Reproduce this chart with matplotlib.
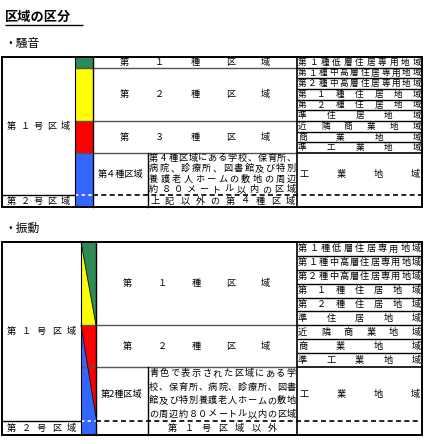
import matplotlib
matplotlib.use("Agg")
import matplotlib.pyplot as plt
from matplotlib.patches import Polygon, Rectangle

plt.rcParams['font.family'] = ['Noto Sans CJK JP', 'DejaVu Sans']

title = "区域の区分"
sec1 = "・騒音"
sec2 = "・振動"
zones = ["第１種低層住居専用地域", "第１種中高層住居専用地域", "第２種中高層住居専用地域",
         "第１種住居地域", "第２種住居地域", "準住居地域",
         "近隣商業地域", "商業地域", "準工業地域"]
kogyo = "工業地域"
noise_classes = ["第１種区域", "第２種区域", "第３種区域"]
noise_class_zone_counts = [1, 5, 3]
noise_4 = "第４種区域"
noise_4_text = ["第4種区域にある学校、保育所、", "病院、診療所、図書館及び特別",
                "養護老人ホームの敷地の周辺", "約８０メートル以内の区域"]
noise_other = "上記以外の第４種区域"
vib_classes = ["第１種区域", "第２種区域"]
vib_class_zone_counts = [6, 3]
vib_2 = "第2種区域"
vib_2_text = ["青色で表示された区域にある学", "校、保育所、病院、診療所、図書",
              "館及び特別養護老人ホームの敷地", "の周辺約８０メートル以内の区域"]
vib_other = "第１号区域以外"
area1 = "第１号区域"
area2 = "第２号区域"

GREEN, YELLOW, RED, BLUE = "#2e8b57", "#ffff00", "#ff0000", "#3366ff"

fig = plt.figure(figsize=(4.25, 4.44), dpi=100)
ax = fig.add_axes([0, 0, 1, 1])
ax.set_xlim(0, 425); ax.set_ylim(444, 0); ax.axis('off')
FS = 6.6

def just(text, x0, x1, y, fs=FS, pad=2):
    chars = [c for c in text if c not in " 　"]
    n = len(chars)
    if n == 1:
        ax.text((x0+x1)/2, y, chars[0], ha='center', va='center', fontsize=fs); return
    w = fs*1.39
    a, b = x0+pad+w/2, x1-pad-w/2
    for i, c in enumerate(chars):
        ax.text(a+(b-a)*i/(n-1), y, c, ha='center', va='center', fontsize=fs)

def hline(y, x0, x1, lw=0.8, ls='-', c='black'):
    ax.plot([x0, x1], [y, y], color=c, lw=lw, ls=ls, solid_capstyle='butt')

def vline(x, y0, y1, lw=0.8, c='black'):
    ax.plot([x, x], [y0, y1], color=c, lw=lw)

ax.text(5, 17, title, fontsize=9.5, fontweight='bold', va='center')
hline(25, 5, 83, lw=1)
ax.text(4, 43, sec1, fontsize=8.5, va='center')
ax.text(4, 228, sec2, fontsize=8.5, va='center')

def table(top, bottom, dash_y, c1, c2, csub, c3, right_top, right_bot, classes, counts, subname, subtext, other, kind):
    L, R = 2, 422
    zh = (right_bot - top) / len(zones)
    for i, z in enumerate(zones):
        y0 = top + i*zh
        just(z, c3, R, y0+zh/2, fs=(6.2 if kind == 'n' else FS), pad=1)
        if i > 0:
            hline(y0, c3, R, lw=1.0)
    just(kogyo, c3, R, (right_bot+dash_y)/2)
    hline(right_bot, c3, R, lw=1.2)
    y = top
    for name, n in zip(classes, counts):
        y1 = y + n*zh
        just(name, c2+25, c3-25, (y+y1)/2)
        hline(y1, c1, c3, lw=1.0, c='#555555')
        y = y1
    ax.text((c2+csub)/2, (right_bot+dash_y)/2, subname, ha='center', va='center', fontsize=FS)
    lh = (dash_y - right_bot) / len(subtext)
    for i, t in enumerate(subtext):
        just(t, csub, c3, right_bot + lh*(i+0.5), pad=1)
    just(other, csub, c3, (dash_y+bottom)/2, pad=(2 if kind == 'n' else 20))
    just(area1, L, c1, (top+dash_y)/2, pad=5)
    just(area2, L, c1, (dash_y+bottom)/2, pad=5)
    if kind == 'n':
        ys = [top, top+zh, top+6*zh, right_bot, bottom]
        for (a, b), col in zip(zip(ys[:-1], ys[1:]), [GREEN, YELLOW, RED, BLUE]):
            ax.add_patch(Rectangle((c1, a), c2-c1, b-a, color=col, lw=0))
    else:
        m = top + 6*zh
        ax.add_patch(Polygon([(c1, top), (c2, top), (c2, m)], color=GREEN, lw=0))
        ax.add_patch(Polygon([(c1, top), (c2, m), (c1, m)], color=YELLOW, lw=0))
        ax.add_patch(Polygon([(c1, m), (c2, m), (c2, dash_y-4)], color=RED, lw=0))
        ax.add_patch(Polygon([(c1, m), (c2, dash_y-4), (c2, bottom), (c1, bottom)], color=BLUE, lw=0))
        ax.plot([c1, c2], [top, m], color='black', lw=0.6)
        ax.plot([c1, c2], [m, dash_y-4], color='black', lw=0.6)
    hline(dash_y, L, c1, lw=1.0)
    hline(dash_y, c1, c2, lw=1.2, ls=(0, (2, 2)), c='white')
    hline(dash_y, c2, R, lw=1.2, ls=(0, (3, 2)))
    vline(c1, top, bottom); vline(c2, top, bottom, lw=1)
    vline(csub, right_bot, bottom, lw=1)
    vline(c3, top, bottom, lw=1.2)
    ax.add_patch(Rectangle((L, top), R-L, bottom-top, fill=False, lw=1.4, ec='black'))

table(57, 207, 195, 75, 93, 148, 297, 57, 153, noise_classes, noise_class_zone_counts,
      noise_4, noise_4_text, noise_other, 'n')
table(242, 435, 421, 81, 96, 148, 297, 242, 367, vib_classes, vib_class_zone_counts,
      vib_2, vib_2_text, vib_other, 'v')

fig.savefig("out.png", dpi=100)
